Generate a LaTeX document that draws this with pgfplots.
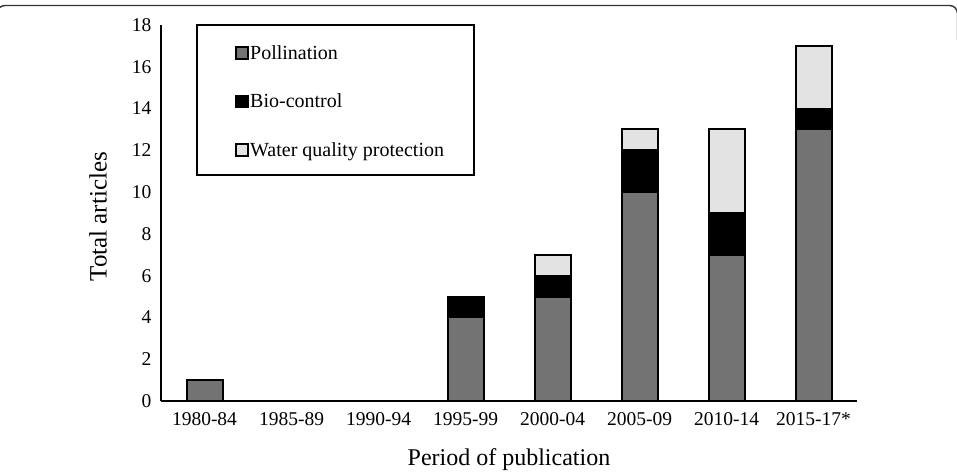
\documentclass[border=0pt]{standalone}
\usepackage{pgfplots}
\pgfplotsset{compat=1.18}
\usepackage{fontspec}
\setmainfont{Liberation Serif}

\definecolor{pollgray}{HTML}{737373}
\definecolor{watergray}{HTML}{E3E3E3}

\pgfplotsset{
  sqlegend/.style={legend image code/.code={%
    \draw[##1,line width=1.5pt] (0pt,0.5pt) rectangle (12pt,12.5pt);}},
}

\begin{document}
\begin{tikzpicture}
\useasboundingbox (0pt,0pt) rectangle (957pt,-472pt);
% frame of the figure panel
\draw[line width=1.4pt, black!80, rounded corners=8pt] (-3pt,-40pt) -- (-3pt,-5.5pt) -- (957.5pt,-5.5pt) -- (957.5pt,-40pt);

\begin{axis}[
  at={(161pt,-401pt)}, anchor=south west,
  scale only axis, width=696pt, height=376pt,
  xmin=-0.5, xmax=7.5, ymin=0, ymax=18,
  ybar stacked, bar width=36pt,
  axis x line=bottom, axis y line=left,
  axis line style={-, line width=1.8pt},
  xtick={0,...,7},
  xticklabels={1980-84,1985-89,1990-94,1995-99,2000-04,2005-09,2010-14,2015-17*},
  ytick={0,2,...,18},
  major tick length=0pt, tick style={draw=none},
  /pgf/number format/assume math mode=true,
  ticklabel style={font=\fontsize{19.5}{23}\selectfont},
  yticklabel style={xshift=-6pt},
  xticklabel style={yshift=-8pt},
  xlabel={Period of publication}, ylabel={Total articles},
  label style={font=\fontsize{24}{28}\selectfont},
  xlabel style={at={(axis description cs:0.5,-0.1702)}, anchor=base},
  ylabel style={at={(axis description cs:-0.078,0.49)}, anchor=base,
    font=\fontsize{25}{29}\selectfont},
  legend cell align=left,
  legend style={draw=none, fill=none, at={(0.102,0.951)}, anchor=north west,
    font=\fontsize{20}{24}\selectfont, row sep=33pt,
    cells={anchor=base west},
    nodes={inner xsep=1.5pt, inner ysep=0pt}},
]
\addplot[fill=pollgray, draw=black, line width=2pt, sqlegend]
  coordinates {(0,1) (1,0) (2,0) (3,4) (4,5) (5,10) (6,7) (7,13)};
\addplot[fill=black, draw=black, line width=2pt, sqlegend]
  coordinates {(0,0) (1,0) (2,0) (3,1) (4,1) (5,2) (6,2) (7,1)};
\addplot[fill=watergray, draw=black, line width=2pt, sqlegend]
  coordinates {(0,0) (1,0) (2,0) (3,0) (4,1) (5,1) (6,4) (7,3)};
\legend{Pollination, Bio-control, Water quality protection}
\end{axis}

% legend box
\draw[line width=1.8pt] (197pt,-25pt) rectangle (474pt,-175pt);
\end{tikzpicture}
\end{document}
